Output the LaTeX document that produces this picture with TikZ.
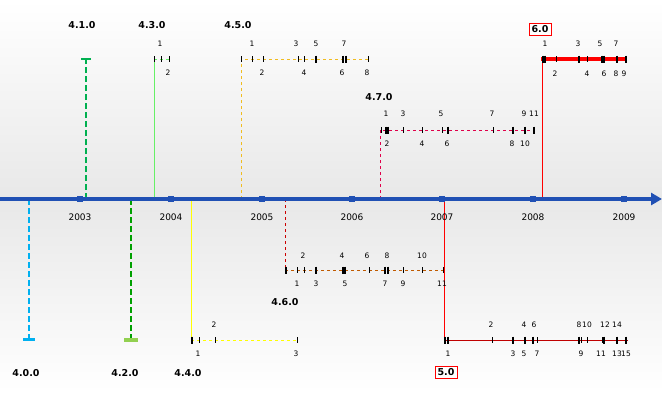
\documentclass[tikz,border=0pt]{standalone}
\usepackage{fontspec}
\setmainfont{DejaVu Sans}
\usetikzlibrary{arrows.meta}
\definecolor{axisBlue}{HTML}{2050B4}
\definecolor{bgGray}{HTML}{E8E8E8}
\definecolor{cFour}{HTML}{00B0F0}
\definecolor{cFourOne}{HTML}{00B050}
\definecolor{cFourTwo}{HTML}{00A000}
\definecolor{cFourTwoBar}{HTML}{92D050}
\definecolor{cFourThree}{HTML}{66F066}
\definecolor{cFourFour}{HTML}{FFFF00}
\definecolor{cFourFive}{HTML}{F0BC20}
\definecolor{cFourSix}{HTML}{C05A00}
\definecolor{cFourSeven}{HTML}{E0004A}
\definecolor{cFive}{HTML}{C00000}

\begin{document}
\begin{tikzpicture}[x=1pt, y=-1pt,
    rel/.style={font=\bfseries\fontsize{9.5}{10}\selectfont, inner sep=1pt},
    relbox/.style={rel, draw=red, line width=0.8pt, fill=white, inner sep=2.5pt},
    yr/.style={font=\fontsize{9}{10}\selectfont, inner sep=0pt},
    num/.style={font=\fontsize{7.5}{8}\selectfont, inner sep=0pt},
    yrmark/.style={fill=axisBlue, minimum size=5.5pt, inner sep=0pt},
    tk/.style={line width=0.7pt},
    btk/.style={line width=1.8pt}]
		\useasboundingbox (0,0) rectangle (662,392);
		\fill[top color=white, bottom color=bgGray] (0,0) rectangle (662,199);
		\fill[top color=bgGray, bottom color=white] (0,199) rectangle (662,392);
		%%%%%%%%%%%%%
		\coordinate (a400) at (29,199);  \coordinate (e400) at (29,339);
		\coordinate (a410) at (86,199);  \coordinate (e410) at (86,59);
		\coordinate (a420) at (131,199); \coordinate (e420) at (131,340);
		\coordinate (a430) at (154,199); \coordinate (e430) at (154,59);  \coordinate (f430) at (170,59);
		\coordinate (a440) at (191,199); \coordinate (e440) at (191,340); \coordinate (f440) at (297,340);
		\coordinate (a450) at (241,199); \coordinate (e450) at (241,59);  \coordinate (f450) at (368,59);
		\coordinate (a460) at (285,199); \coordinate (e460) at (285,270); \coordinate (f460) at (443,270);
		\coordinate (a470) at (380,199); \coordinate (e470) at (380,130); \coordinate (f470) at (534,130);
		\coordinate (a500) at (444,199); \coordinate (e500) at (444,340); \coordinate (f500) at (628,340);
		\coordinate (a600) at (542,199); \coordinate (e600) at (542,59);  \coordinate (f600) at (627,59);
		%%%%%%%%%%%%%
		\node[rel] (r400) at (26,373) {4.0.0};
		\node[rel] (r410) at (82,25) {4.1.0};
		\node[rel] (r420) at (125,373) {4.2.0};
		\node[rel] (r430) at (152,25) {4.3.0};
		\node[rel] (r440) at (188,373) {4.4.0};
		\node[rel] (r450) at (238,25) {4.5.0};
		\node[rel] (r460) at (285,302) {4.6.0};
		\node[rel] (r470) at (379,97) {4.7.0};
		\node[relbox] (r500) at (446,372) {5.0};
		\node[relbox] (r600) at (540,29) {6.0};
		%%%%%%%%%%%%%
		\draw[cFour, line width=2.5pt, dash pattern=on 6pt off 3pt] (a400) to (e400);
		\draw[cFour, line width=3pt] ([xshift=-6]e400) to ([xshift=6]e400);
		\draw[cFourOne, line width=2.5pt, dash pattern=on 6pt off 3pt] (a410) to (e410);
		\draw[cFourOne, line width=2pt] ([xshift=-5]e410) to ([xshift=5]e410);
		\draw[cFourTwo, line width=2.5pt, dash pattern=on 6pt off 3pt] (a420) to (e420);
		\draw[cFourTwoBar, line width=4pt] ([xshift=-7]e420) to ([xshift=7]e420);
		\draw[cFourThree, line width=0.8pt] (a430) to (e430);
		\draw[cFourThree, line width=0.6pt, dashed] (e430) to (f430);
		\draw[cFourFour, line width=0.8pt] (a440) to (e440);
		\draw[cFourFour, line width=0.8pt, dashed] (e440) to (f440);
		\draw[cFourFive, line width=0.6pt, dashed] (a450) to (e450) to (f450);
		\draw[red!80!black, line width=0.6pt, dashed] (a460) to (e460);
		\draw[cFourSix, line width=0.6pt, dashed] (e460) to (f460);
		\draw[cFourSeven, line width=0.6pt, dashed] (a470) to (e470) to (f470);
		\draw[red, line width=0.8pt] (a500) to (e500);
		\draw[cFive, line width=0.9pt] (e500) to (f500);
		\draw[red, line width=0.8pt] (a600) to (e600);
		\draw[red, line width=4pt] ([xshift=-1]e600) to (f600);
		%%%%%%%%%%%%%
		\coordinate (ax0) at (0,199); \coordinate (ax1) at (662,199);
		\draw[axisBlue, line width=4pt, -{Triangle[length=11pt, width=12pt]}] (ax0) to (ax1);
		\foreach \y/\x in {2003/80, 2004/171, 2005/262, 2006/352, 2007/442, 2008/533, 2009/624} {
			\node[yrmark] (m\y) at (\x,199) {};
			\node[yr] (y\y) at (\x,217) {\y};
		}
		%%%%%%%%%%%%% 4.3.0 / 4.5.0 / 6.0
		\foreach \x in {154,161,169, 241,252,263,298,304,368, 556,587} \draw[tk] (\x,56) to (\x,62);
		\foreach \x in {316,343,346, 543,545,579,602,604,617,626} \draw[btk] (\x,55.5) to (\x,62.5);
		\foreach \n/\x in {1/160, 1/252, 3/296, 5/316, 7/344} \node[num] at (\x,44) {\n};
		\foreach \n/\x in {2/168, 2/262, 4/304, 6/342, 8/367} \node[num] at (\x,73) {\n};
		\foreach \n/\x in {1/545, 3/578, 5/600, 7/616} \node[num] at (\x,44) {\n};
		\foreach \n/\x in {2/555, 4/587, 6/604, 8/616, 9/624} \node[num] at (\x,74) {\n};
		%%%%%%%%%%%%% 4.7.0
		\foreach \x in {381,403,422,442,493} \draw[tk] (\x,127) to (\x,133);
		\foreach \x in {386,388,448,513,525,534} \draw[btk] (\x,126.5) to (\x,133.5);
		\foreach \n/\x in {1/386, 3/403, 5/441, 7/492, 9/524, 11/534} \node[num] at (\x,114) {\n};
		\foreach \n/\x in {2/387, 4/422, 6/447, 8/512, 10/525} \node[num] at (\x,144) {\n};
		%%%%%%%%%%%%% 4.6.0
		\foreach \x in {297,304,369,403,422,443} \draw[tk] (\x,267) to (\x,273);
		\foreach \x in {286,316,343,345,385,388} \draw[btk] (\x,266.5) to (\x,273.5);
		\foreach \n/\x in {2/303, 4/342, 6/367, 8/387, 10/422} \node[num] at (\x,256) {\n};
		\foreach \n/\x in {1/297, 3/316, 5/345, 7/385, 9/403, 11/442} \node[num] at (\x,284) {\n};
		%%%%%%%%%%%%% 4.4.0 / 5.0
		\foreach \x in {199,215,297, 492,537,581,587,602} \draw[tk] (\x,337) to (\x,343);
		\foreach \x in {192, 445,448,513,525,533,579,604,617,626} \draw[btk] (\x,336.5) to (\x,343.5);
		\foreach \n/\x in {2/214, 2/491, 4/524, 6/534, 8/579, 10/587, 12/605, 14/617} \node[num] at (\x,325) {\n};
		\foreach \n/\x in {1/198, 3/296, 1/448, 3/513, 5/524, 7/537, 9/581, 11/601, 13/617, 15/626} \node[num] at (\x,354) {\n};
\end{tikzpicture}
\end{document}
